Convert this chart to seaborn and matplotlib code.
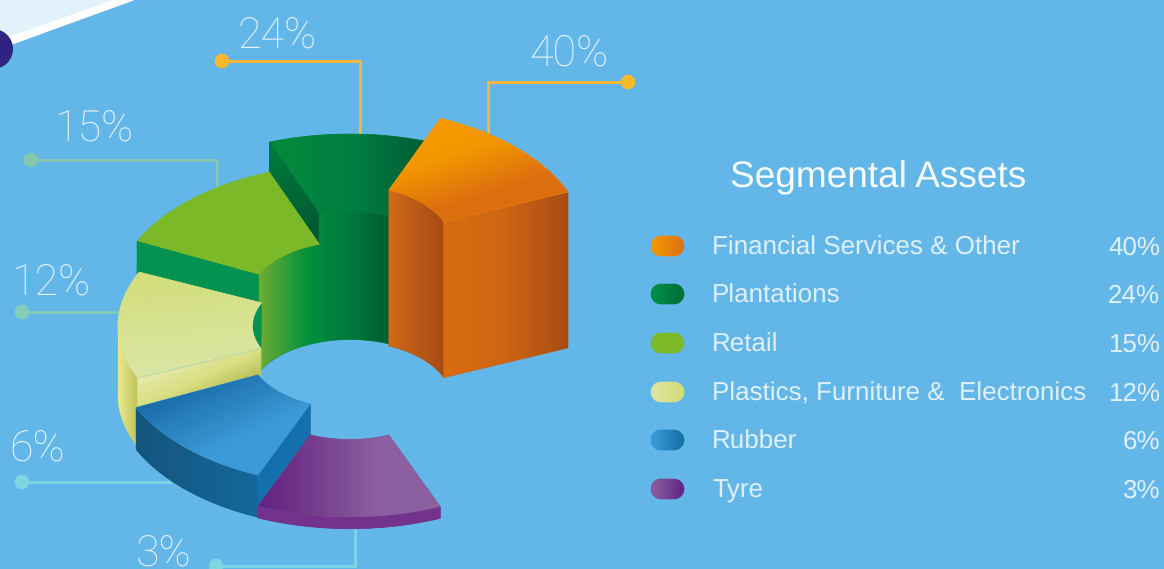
import numpy as np
import pandas as pd
import matplotlib
matplotlib.use("Agg")
import matplotlib.pyplot as plt
from matplotlib.patches import Polygon, Circle
import seaborn as sns

# Segment data
categories = ["Financial Services & Other", "Plantations", "Retail",
              "Plastics, Furniture &  Electronics", "Rubber", "Tyre"]
shares = [40, 24, 15, 12, 6, 3]

# Each block stands as tall as its share, on top of a small plinth
HEIGHT_PER_POINT = 3.9
PLINTH = [0, 34.4, 0, 22, 18.6, 0]

# Block placement on the stepped ring: start/end angles (degrees clockwise from north)
ANGLES = [(67.5, 22.5), (22.5, -20), (-20, -64.5), (-65.5, -113.6), (-115, -157), (-157, -202.5)]
INNER_ANGLES = [(67.5, 22.5), (22.5, -17.5), (-17.5, -64.5), (-65.5, -113.6), (-115, -157), (-157, -202.5)]
CX = [350, 350, 350, 354, 350, 350]
CY = [244, 270, 300, 326, 350, 381]
RY = [136, 136, 136, 130, 136, 136]
RX = 236
INNER = 0.43

BG = "#62B6E8"
sns.set_theme(style="white")
plt.rcParams["font.family"] = ["Liberation Sans", "DejaVu Sans"]
plt.rcParams["text.hinting"] = "no_hinting"
plt.rcParams["text.hinting_factor"] = 1

fig = plt.figure(figsize=(11.64, 5.69), dpi=100, facecolor=BG)
ax = fig.add_axes([0, 0, 1, 1])
ax.set_facecolor(BG)
ax.set_axis_off()

z = [2]


def rgb(*c):
    return tuple(v / 255 for v in c)


def arc(i, a0, a1, r=1.0, drop=0.0, n=60):
    t = np.radians(np.linspace(a0, a1, n))
    x = CX[i] + r * RX * np.sin(t)
    y = CY[i] - r * RY[i] * np.cos(t) + drop
    return np.column_stack([x, y])


def shade(poly, colors, angle=0.0, stops=None):
    """Fill a polygon with a linear gradient running along `angle` (screen degrees)."""
    z[0] += 1
    poly = np.asarray(poly)
    x0, y0 = np.floor(poly.min(axis=0)) - 1
    x1, y1 = np.ceil(poly.max(axis=0)) + 1
    xs = np.arange(x0, x1 + 1)
    ys = np.arange(y0, y1 + 1)
    gx, gy = np.meshgrid(xs, ys)
    th = np.radians(angle)
    proj = np.cos(th) * (poly[:, 0]) + np.sin(th) * (poly[:, 1])
    t = (np.cos(th) * gx + np.sin(th) * gy - proj.min()) / max(proj.max() - proj.min(), 1e-6)
    t = np.clip(t, 0, 1)
    if stops is not None:
        t = np.interp(t, stops, np.linspace(0, 1, len(stops)))
    cmap = sns.blend_palette(colors, as_cmap=True)
    patch = Polygon(poly, closed=True, facecolor=cmap(0.5), edgecolor=cmap(0.5), linewidth=0.4, zorder=z[0])
    ax.add_patch(patch)
    z[0] += 1
    im = ax.imshow(t, extent=(x0 - .5, x1 + .5, y1 + .5, y0 - .5), cmap=cmap, vmin=0, vmax=1,
                   aspect="auto", interpolation="bilinear", zorder=z[0])
    im.set_clip_path(patch)


def top_face(i, colors, angle=0.0, stops=None):
    a0, a1 = ANGLES[i]
    b0, b1 = INNER_ANGLES[i]
    shade(np.vstack([arc(i, a0, a1), arc(i, b1, b0, INNER)]), colors, angle, stops)


def outer_wall(i, a0, a1, colors, angle=0.0):
    shade(np.vstack([arc(i, a0, a1), arc(i, a1, a0, drop=height[i])]), colors, angle)


def inner_wall(i, a0, a1, colors, angle=0.0):
    shade(np.vstack([arc(i, a0, a1, INNER), arc(i, a1, a0, INNER, drop=height[i])]), colors, angle)


def radial_wall(i, a, b, colors, angle=0.0, h=None):
    h = height[i] if h is None else h
    p = arc(i, a, a, 1.0, n=1)[0]
    q = arc(i, b, b, INNER, n=1)[0]
    shade(np.array([p, q, q + [0, h], p + [0, h]]), colors, angle)


def pill_outline(x0, x1, y, radius):
    t = np.radians(np.linspace(-90, 90, 30))
    right = np.column_stack([x1 - radius + radius * np.cos(t), y + radius * np.sin(t)])
    left = np.column_stack([x0 + radius - radius * np.cos(t[::-1]), y + radius * np.sin(t[::-1])])
    return np.vstack([right, left])


height = [HEIGHT_PER_POINT * s + p for s, p in zip(shares, PLINTH)]

# Decorative corner ribbon
ax.add_patch(Polygon([(0, 0), (135, 0), (0, 49)], closed=True, fc="white", ec="none", zorder=1))
ax.add_patch(Polygon([(0, 0), (113, 0), (0, 40)], closed=True, fc="#E2F2FA", ec="none", zorder=1.1))
ax.add_patch(Circle((-7, 49), 20, fc="#2E2380", ec="none", zorder=1.2))

# Callout leaders
leaders = pd.DataFrame({
    "share": [40, 24, 15, 12, 6, 3],
    "dot_x": [628, 222, 31, 22, 22, 216],
    "dot_y": [82, 61, 160, 312, 482, 566],
    "elbow_x": [488, 360, 217, 118, 170, 355],
    "end_y": [135, 140, 190, 312, 482, 530],
    "text_x": [569, 277, 94, 51, 37, 164],
    "text_base": [66, 48, 141, 295, 461, 566],
})
leader_colors = ["#FDB92E", "#FDB92E", "#86C8AE", "#84CDB8", "#7FD6E2", "#7FD6E2"]
for row, col in zip(leaders.itertuples(), leader_colors):
    ax.plot([row.dot_x, row.elbow_x, row.elbow_x], [row.dot_y, row.dot_y, row.end_y],
            color=col, lw=2.0, solid_joinstyle="miter", zorder=1.5)
    ax.text(row.text_x, row.text_base, f"{row.share}%", color="white", alpha=0.85, fontsize=31,
            family=["Roboto", "DejaVu Sans"], fontweight="light", ha="center", va="baseline", zorder=1.6)
sns.scatterplot(data=leaders, x="dot_x", y="dot_y", hue="share", palette=dict(zip(leaders["share"], leader_colors)),
                s=110, linewidth=0, legend=False, ax=ax, zorder=1.7)

# Plantations
top_face(1, [rgb(0, 140, 60), rgb(0, 125, 65), rgb(0, 85, 50)], 0)
radial_wall(1, -20, -17.5, [rgb(0, 125, 60), rgb(0, 80, 48)], 55, h=45)
wall_left = -64.5
t_bottom = arc(1, 22.5, wall_left, INNER, drop=height[1])
t_top_right = arc(1, -17.5, 22.5, INNER)
t_top_left = arc(2, wall_left, -17.5, INNER)
shade(np.vstack([t_bottom, t_top_left, t_top_right]),
      [rgb(112, 172, 52), rgb(0, 145, 58), rgb(0, 125, 62), rgb(0, 92, 50)], 0, [0, .38, .65, 1])

# Retail
top_face(2, [rgb(125, 185, 40), rgb(125, 185, 40)], 0)
radial_wall(2, -64.5, -64.5, [rgb(5, 145, 80), rgb(5, 145, 80)], 0, h=32)

# Crescent of the retail wall showing behind the plastics block
shade(arc(3, -65.5, -113.6, INNER), [rgb(5, 145, 80), rgb(5, 145, 80)], 0)

# Plastics, Furniture & Electronics
a0, a1 = ANGLES[3]
outer_wall(3, -88, a1, [rgb(232, 232, 145), rgb(192, 196, 85)], 0)
radial_wall(3, a1, a1, [rgb(230, 234, 172), rgb(218, 222, 130), rgb(178, 188, 78)], 65, h=30)
top_face(3, [rgb(211, 222, 122), rgb(218, 230, 165)], 85)
edge = np.array([arc(3, a1, a1, 1.0, n=1)[0], arc(3, a1, a1, INNER, n=1)[0]])
z[0] += 1
ax.plot(edge[:, 0], edge[:, 1], color="#A8D8B0", lw=0.7, ls=(0, (3, 1)), zorder=z[0])

# Financial Services & Other
inner_wall(0, 22.5, 67.5, [rgb(208, 105, 25), rgb(165, 75, 20)], 0)
radial_wall(0, 67.5, 67.5, [rgb(218, 108, 15), rgb(205, 102, 20), rgb(165, 75, 20)], 0)
top_face(0, [rgb(247, 155, 0), rgb(243, 150, 0), rgb(220, 110, 15)], 72, [0, .35, .8])

# Rubber
outer_wall(4, -115, -157, [rgb(20, 85, 125), rgb(20, 105, 155)], 0)
radial_wall(4, -157, -157, [rgb(20, 112, 172), rgb(20, 112, 172)], 0)
top_face(4, [rgb(25, 108, 168), rgb(60, 155, 215), rgb(60, 155, 215)], 65, [0, .65, 1])

# Tyre
outer_wall(5, -157, -202.5, [rgb(115, 50, 140), rgb(115, 50, 140)], 0)
top_face(5, [rgb(95, 35, 130), rgb(110, 50, 135), rgb(140, 95, 160), rgb(140, 95, 160)], 0, [0, .2, .65, 1])

# Legend panel
ax.text(878, 187, "Segmental Assets", color="white", alpha=0.95, fontsize=26.8,
        ha="center", va="baseline", zorder=50)
legend_y = [246, 294, 343, 392, 440, 489]
legend_colors = [
    [rgb(245, 155, 0), rgb(220, 110, 20)],
    [rgb(0, 145, 70), rgb(0, 110, 55)],
    [rgb(125, 185, 40), rgb(125, 185, 40)],
    [rgb(220, 230, 165), rgb(210, 220, 115)],
    [rgb(60, 155, 215), rgb(20, 110, 165)],
    [rgb(140, 95, 160), rgb(95, 35, 130)],
]
for name, share, y, cols in zip(categories, shares, legend_y, legend_colors):
    shade(pill_outline(651, 684, y, 10), cols, 0)
    ax.text(712, y + 8.5, name, color="white", alpha=0.8, fontsize=18.4,
            ha="left", va="baseline", zorder=50)
    ax.text(1160, y + 8.5, f"{share}%", color="white", alpha=0.8, fontsize=18.4,
            ha="right", va="baseline", zorder=50)

ax.set_xlim(0, 1164)
ax.set_ylim(569, 0)
fig.savefig("out.png", dpi=100, facecolor=BG)
